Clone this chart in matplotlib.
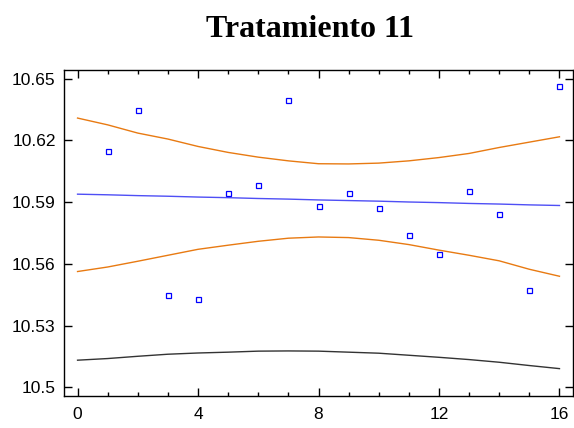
import numpy as np
import matplotlib
matplotlib.use("Agg")
import matplotlib.pyplot as plt
from matplotlib.ticker import MultipleLocator

# datos
x_obs = [1, 2, 3, 4, 5, 6, 7, 8, 9, 10, 11, 12, 13, 14, 15, 16]
y_obs = [10.6151, 10.6348, 10.5448, 10.5428, 10.5944, 10.5983, 10.6399, 10.5882,
         10.5944, 10.5872, 10.5742, 10.5647, 10.5953, 10.5845, 10.5471, 10.6466]

x_fit = [0, 1, 2, 3, 4, 5, 6, 7, 8, 9, 10, 11, 12, 13, 14, 15, 16]
y_fit = [10.5939, 10.5936, 10.5932, 10.5929, 10.5925, 10.5922, 10.5918, 10.5915, 10.5911,
         10.5908, 10.5905, 10.5901, 10.5898, 10.5894, 10.5891, 10.5887, 10.5884]
conf_sup = [10.6309, 10.6276, 10.6236, 10.6207, 10.6171, 10.6142, 10.6119, 10.6101, 10.6087,
            10.6086, 10.6090, 10.6101, 10.6117, 10.6137, 10.6166, 10.6192, 10.6218]
conf_inf = [10.5563, 10.5585, 10.5613, 10.5642, 10.5671, 10.5691, 10.5710, 10.5725, 10.5731,
            10.5728, 10.5715, 10.5694, 10.5667, 10.5642, 10.5615, 10.5574, 10.5540]
pred_inf = [10.5132, 10.5140, 10.5151, 10.5161, 10.5167, 10.5171, 10.5176, 10.5177, 10.5176,
            10.5171, 10.5166, 10.5156, 10.5146, 10.5135, 10.5122, 10.5106, 10.5091]

fig = plt.figure(figsize=(5.74, 4.28), dpi=100)
ax = fig.add_axes([0.1115, 0.0748, 0.8868, 0.7623])

ax.plot(x_fit, conf_sup, color='#E87A12', linewidth=1.0)
ax.plot(x_fit, conf_inf, color='#E87A12', linewidth=1.0)
ax.plot(x_fit, pred_inf, color='#333333', linewidth=1.0)
ax.plot(x_fit, y_fit, color='#4F4FF5', linewidth=1.0)
ax.plot(x_obs, y_obs, linestyle='none', marker='s', markersize=3.6,
        markerfacecolor='white', markeredgecolor='#0000FF', markeredgewidth=0.9)

ax.set_xlim(-0.45, 16.45)
ax.set_ylim(10.4958, 10.6544)
ax.set_xticks([0, 4, 8, 12, 16])
ax.xaxis.set_minor_locator(MultipleLocator(1))
ax.set_yticks([10.5, 10.53, 10.56, 10.59, 10.62, 10.65])
ax.set_yticklabels(['10.5', '10.53', '10.56', '10.59', '10.62', '10.65'])

ax.tick_params(which='both', direction='in', top=True, right=True, width=1.0,
               labelsize=12.5, color='black')
ax.tick_params(which='major', length=6)
ax.tick_params(which='minor', length=3)
ax.tick_params(axis='x', pad=8)
ax.tick_params(axis='y', pad=6)
for lab in ax.get_xticklabels() + ax.get_yticklabels():
    lab.set_family('Liberation Sans')
for s in ax.spines.values():
    s.set_linewidth(1.0)

fig.text(0.54, 0.93, 'Tratamiento 11', ha='center', va='center',
         fontsize=23, fontweight='bold', family='Liberation Serif')

fig.savefig('out.png', dpi=100)
